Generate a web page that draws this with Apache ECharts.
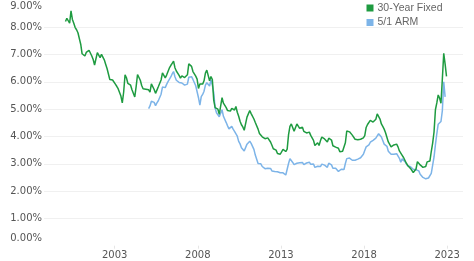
<!DOCTYPE html>
<html>
<head>
<meta charset="utf-8">
<script src="https://cdn.jsdelivr.net/npm/echarts@6/dist/echarts.min.js"></script>
<style>html,body{margin:0;padding:0;background:#fff}#c{width:474px;height:261px}</style>
</head>
<body>
<div id="c"></div>
<script>
// Monthly average rates (%), 30-Year Fixed from Jan 2000, 5/1 ARM from Jan 2005
const fixedStart = [2000, 1];
const fixed30 = [
  8.21, 8.33, 8.24, 8.15, 8.60, 8.29, 8.15, 7.99, 7.91, 7.80, 7.75, 7.38,
  7.03, 7.05, 6.95, 7.08, 7.15, 7.16, 7.13, 6.95, 6.82, 6.62, 6.66, 7.07,
  7.00, 6.89, 7.01, 6.99, 6.81, 6.65, 6.49, 6.29, 6.09, 6.11, 6.07, 6.05,
  5.92, 5.84, 5.75, 5.81, 5.48, 5.23, 5.63, 6.26, 6.15, 5.95, 5.93, 5.88,
  5.71, 5.64, 5.45, 5.83, 6.27, 6.29, 6.06, 5.87, 5.75, 5.72, 5.73, 5.75,
  5.71, 5.63, 5.93, 5.86, 5.72, 5.58, 5.70, 5.82, 5.77, 6.07, 6.33, 6.27,
  6.15, 6.25, 6.32, 6.51, 6.60, 6.68, 6.76, 6.52, 6.40, 6.36, 6.24, 6.14,
  6.22, 6.29, 6.16, 6.18, 6.26, 6.66, 6.70, 6.57, 6.38, 6.38, 6.21, 6.10,
  5.76, 5.92, 5.97, 5.92, 6.04, 6.32, 6.43, 6.48, 6.04, 6.20, 6.09, 5.33,
  5.06, 5.13, 5.00, 4.81, 4.86, 5.42, 5.22, 5.19, 5.06, 4.95, 4.88, 4.93,
  5.03, 4.99, 4.97, 5.10, 4.89, 4.74, 4.56, 4.43, 4.35, 4.23, 4.30, 4.71,
  4.76, 4.95, 4.84, 4.84, 4.64, 4.51, 4.55, 4.27, 4.11, 4.07, 3.99, 3.96,
  3.92, 3.89, 3.95, 3.91, 3.80, 3.68, 3.55, 3.60, 3.50, 3.38, 3.35, 3.35,
  3.41, 3.53, 3.57, 3.45, 3.54, 4.07, 4.37, 4.46, 4.49, 4.19, 4.26, 4.46,
  4.43, 4.30, 4.34, 4.34, 4.19, 4.16, 4.13, 4.12, 4.16, 4.04, 4.00, 3.86,
  3.67, 3.71, 3.77, 3.67, 3.84, 3.98, 4.05, 3.91, 3.89, 3.80, 3.94, 3.96,
  3.87, 3.66, 3.69, 3.61, 3.60, 3.57, 3.44, 3.44, 3.46, 3.47, 3.77, 4.20,
  4.15, 4.17, 4.20, 4.05, 4.01, 3.90, 3.97, 3.88, 3.81, 3.90, 3.92, 3.95,
  4.03, 4.33, 4.44, 4.47, 4.59, 4.57, 4.53, 4.55, 4.63, 4.83, 4.87, 4.64,
  4.46, 4.37, 4.27, 4.14, 4.07, 3.80, 3.77, 3.62, 3.61, 3.69, 3.70, 3.72,
  3.62, 3.47, 3.45, 3.31, 3.23, 3.16, 3.02, 2.94, 2.89, 2.83, 2.77, 2.68,
  2.74, 2.81, 3.08, 3.06, 2.96, 2.98, 2.87, 2.84, 2.90, 3.07, 3.07, 3.10,
  3.45, 3.76, 4.17, 4.98, 5.23, 5.52, 5.41, 5.22, 6.11, 7.05, 6.65, 6.20
];
const armStart = [2005, 1];
const arm51 = [
  5.02, 5.12, 5.29, 5.36, 5.25, 5.13, 5.23, 5.31, 5.27, 5.55, 5.81, 5.81,
  5.79, 5.91, 6.01, 6.08, 6.18, 6.29, 6.38, 6.19, 6.06, 6.04, 5.98, 5.91,
  5.96, 5.99, 5.88, 5.90, 5.92, 6.17, 6.21, 6.19, 6.09, 6.06, 5.86, 5.85,
  5.42, 5.15, 5.46, 5.54, 5.66, 5.88, 5.97, 5.99, 5.85, 6.08, 5.88, 5.60,
  5.04, 4.87, 4.84, 4.72, 4.66, 4.98, 4.74, 4.69, 4.51, 4.39, 4.28, 4.34,
  4.37, 4.27, 4.19, 4.23, 4.01, 3.82, 3.73, 3.59, 3.53, 3.47, 3.42, 3.72,
  3.78, 3.83, 3.75, 3.69, 3.53, 3.32, 3.26, 3.01, 2.97, 3.00, 2.90, 2.87,
  2.82, 2.76, 2.84, 2.78, 2.83, 2.74, 2.70, 2.72, 2.74, 2.71, 2.70, 2.67,
  2.65, 2.67, 2.63, 2.59, 2.65, 3.01, 3.19, 3.20, 3.05, 2.97, 2.99, 3.02,
  3.06, 3.04, 3.04, 3.05, 2.97, 2.99, 3.03, 3.00, 3.06, 2.98, 3.00, 2.99,
  2.87, 2.89, 2.91, 2.87, 2.90, 2.99, 3.02, 2.95, 2.91, 2.87, 3.02, 3.09,
  2.96, 2.84, 2.88, 2.84, 2.79, 2.72, 2.76, 2.80, 2.81, 2.79, 3.01, 3.19,
  3.25, 3.21, 3.24, 3.13, 3.10, 3.13, 3.19, 3.17, 3.17, 3.22, 3.23, 3.35,
  3.49, 3.62, 3.63, 3.69, 3.79, 3.82, 3.86, 3.91, 3.94, 4.02, 4.10, 4.04,
  3.98, 3.85, 3.72, 3.74, 3.64, 3.46, 3.46, 3.35, 3.33, 3.35, 3.41, 3.37,
  3.32, 3.20, 3.06, 3.18, 3.17, 3.08, 3.04, 2.93, 2.93, 2.89, 2.90, 2.80,
  2.76, 2.78, 2.82, 2.74, 2.62, 2.56, 2.50, 2.43, 2.45, 2.52, 2.48, 2.42,
  2.65, 2.95, 3.25, 3.70, 4.10, 4.45, 4.45, 4.55, 4.95, 6.00, 5.45
];
const yearTicks = [2003, 2008, 2013, 2018, 2023];
const yTicks = [0, 1, 2, 3, 4, 5, 6, 7, 8, 9];
const seriesNames = ['30-Year Fixed', '5/1 ARM'];

function toPairs(start, vals) {
  return vals.map((v, i) => {
    const m = start[1] - 1 + i;
    return [start[0] + (m + 0.5) / 12, v];
  });
}

const chart = echarts.init(document.getElementById('c'), null, {renderer: 'canvas'});
chart.setOption({
  animation: false,
  backgroundColor: '#fff',
  grid: {left: 44, right: 11, top: 0, bottom: 15.3, containLabel: false},
  legend: {
    data: seriesNames,
    orient: 'vertical',
    left: 366.5,
    top: 2,
    padding: 0,
    itemWidth: 7,
    itemHeight: 7,
    itemGap: 2.5,
    icon: 'rect',
    textStyle: {fontFamily: 'Liberation Sans', fontSize: 10.5, color: '#666', padding: [0, 0, 0, -1], lineHeight: 12}
  },
  xAxis: {
    type: 'value',
    min: 1998.75,
    max: 2023.95,
    axisLine: {show: false},
    splitLine: {show: false},
    axisTick: {show: true, customValues: yearTicks, length: 3, lineStyle: {color: '#e6e6e6'}},
    axisLabel: {
      customValues: yearTicks,
      margin: 5,
      fontFamily: 'DejaVu Sans',
      fontSize: 10,
      color: '#555',
      formatter: v => String(Math.round(v))
    }
  },
  yAxis: {
    type: 'value',
    min: 0,
    max: 9,
    interval: 1,
    axisLine: {show: false},
    axisTick: {show: false},
    splitLine: {showMinLine: false, showMaxLine: false, lineStyle: {color: '#f0f0f0', width: 1}},
    axisLabel: {
      margin: 2,
      fontFamily: 'DejaVu Sans',
      fontSize: 10,
      color: '#555',
      formatter: v => {
        const s = v.toFixed(2) + '%';
        if (v === 9) return '{t|' + s + '}';
        if (v === 0) return '{b|' + s + '}';
        return s;
      },
      rich: {
        t: {fontFamily: 'DejaVu Sans', fontSize: 10, color: '#555', padding: [12, 0, 0, 0]},
        b: {fontFamily: 'DejaVu Sans', fontSize: 10, color: '#555', padding: [0, 0, 15, 0]}
      }
    }
  },
  series: [
    {
      name: seriesNames[0],
      type: 'line',
      data: toPairs(fixedStart, fixed30),
      showSymbol: false,
      symbol: 'none',
      z: 3,
      color: '#1e9b40',
      lineStyle: {color: '#1e9b40', width: 1.5}
    },
    {
      name: seriesNames[1],
      type: 'line',
      data: toPairs(armStart, arm51),
      showSymbol: false,
      symbol: 'none',
      z: 2,
      color: '#7db4e8',
      lineStyle: {color: '#7db4e8', width: 1.5}
    }
  ]
});
</script>
</body>
</html>
